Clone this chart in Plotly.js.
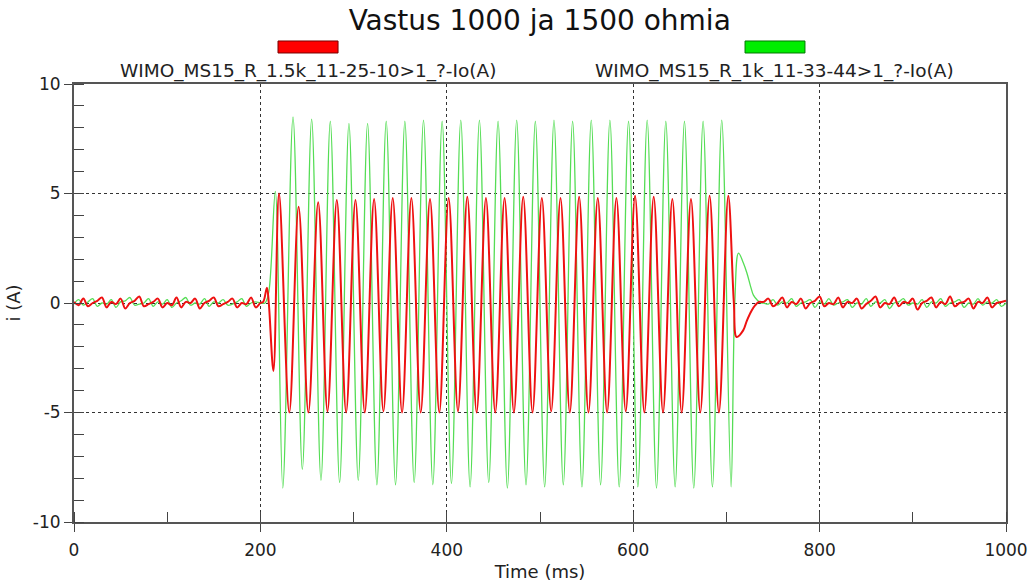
<!DOCTYPE html>
<html>
<head>
<meta charset="utf-8">
<script src="https://cdn.plot.ly/plotly-3.0.1.min.js"></script>
<style>html,body{margin:0;padding:0;background:#fff;}#chart{width:1030px;height:583px;}</style>
</head>
<body>
<div id="chart"></div>
<script>
// ---- Data ----
var chartTitle = "Vastus 1000 ja 1500 ohmia";
var redName = "WIMO_MS15_R_1.5k_11-25-10>1_?-Io(A)";
var greenName = "WIMO_MS15_R_1k_11-33-44>1_?-Io(A)";
var xTickVals = [0, 200, 400, 600, 800, 1000];
var xTickText = ["0", "200", "400", "600", "800", "1000"];
var yTickVals = [-10, -5, 0, 5, 10];
var yTickText = ["-10", "-5", "0", "5", "10"];

// quiet (pre-fault / post-fault) sample times, ms
var quietTimeBefore = [0,5,10,15,20,25,30,35,40,45,50,55,60,65,70,75,80,85,90,95,100,105,110,115,120,125,130,135,140,145,150,155,160,165,170,175,180,185,190,195,200];
var quietTimeAfter = [740,745,750,755,760,765,770,775,780,785,790,795,800,805,810,815,820,825,830,835,840,845,850,855,860,865,870,875,880,885,890,895,900,905,910,915,920,925,930,935,940,945,950,955,960,965,970,975,980,985,990,995,1000];

// red: 1.5 kOhm
var redQuietBefore = [0.05,-0.1,0.2,-0.15, 0.0,0.1,0.25,-0.2, 0.05,-0.05,0.2,-0.25, 0.0,0.1,0.3,-0.15, -0.05,0.05,0.2,-0.2, 0.0,-0.1,0.25,-0.2, 0.05,0.0,0.2,-0.25, 0.0,0.1,0.25,-0.15, -0.05,0.05,0.2,-0.2, 0.0,-0.05,0.25,-0.2, 0.0];
var redActiveTime = [203,207,209,214,220,231,241,251.5,262,
  272,282,292,302,312,322,332,342,352,362,372,382,392,402,412,422,432,442,452,462,472,482,492,502,512,522,532,542,552,562,572,582,592,602,612,622,632,642,652,662,672,682,692,702,
  708,711,718,722,727,731,735];
var redActiveValue = [0.05,0.7,0.0,-3.1,5.0,-5.0,4.4,-5.0,4.6,
  -4.95,4.7,-5.0,4.7,-5.0,4.75,-4.95,4.8,-5.0,4.8,-5.0,4.75,-5.0,4.8,-4.95,4.85,-5.0,4.8,-5.0,4.8,-5.0,4.85,-5.0,4.8,-4.95,4.8,-5.0,4.85,-5.0,4.8,-5.0,4.8,-4.95,4.9,-5.0,4.85,-5.0,4.75,-5.0,4.75,-5.0,4.9,-5.0,4.9,
  0.0,-1.55,-1.25,-0.8,-0.35,-0.1,0.05];
var redQuietAfter = [0.05,0.2,-0.15,0.0, 0.25,-0.2,0.05,-0.05, 0.2,-0.25,0.0,0.1, 0.3,-0.15,0.0,-0.05, 0.25,-0.2,0.05,0.0, 0.2,-0.25,-0.05,0.1, 0.3,-0.2,0.0,-0.05, 0.25,-0.15,0.05,0.0, 0.2,-0.3,0.0,0.1, 0.25,-0.2,0.05,-0.05, 0.3,-0.15,0.0,0.05, 0.2,-0.25,0.05,0.0, 0.25,-0.2,0.0,0.05, 0.1];

// green: 1 kOhm
var greenQuietBefore = [-0.05,0.15,-0.1,0.05, 0.2,-0.15,0.0,-0.05, 0.15,-0.2,0.05,0.1, 0.25,-0.1,-0.05,0.0, 0.2,-0.15,0.05,-0.05, 0.15,-0.2,0.0,0.1, 0.25,-0.1,0.0,-0.05, 0.2,-0.15,0.05,0.0, 0.15,-0.1,-0.05,0.05, 0.2,-0.15,0.0,0.05, 0.0];
var greenActiveTime = [205,209,216,224,
  235,245,255,265,275,285,295,305,315,325,335,345,355,365,375,385,395,405,415,425,435,445,455,465,475,485,495,505,515,525,535,545,555,565,575,585,595,605,615,625,635,645,655,665,675,685,695,705,
  709,713,718,722,726,729,733,737];
var greenActiveValue = [0.0,0.5,5.1,-8.45,
  8.5,-7.6,8.4,-8.1,8.3,-8.2,8.2,-8.1,8.2,-8.3,8.3,-8.3,8.3,-8.2,8.35,-8.3,8.3,-8.25,8.35,-8.4,8.35,-8.2,8.3,-8.45,8.35,-8.3,8.3,-8.4,8.35,-8.3,8.3,-8.4,8.35,-8.3,8.35,-8.4,8.3,-8.4,8.35,-8.45,8.3,-8.4,8.3,-8.45,8.3,-8.4,8.35,-8.4,
  0.0,2.28,1.85,1.37,0.75,0.36,0.14,0.0];
var greenQuietAfter = [0.0,-0.05,0.15,-0.1, 0.05,0.0,0.2,-0.15, 0.0,0.05,0.15,-0.2, 0.05,-0.05,0.2,-0.1, 0.0,0.05,0.15,-0.2, 0.0,-0.05,0.2,-0.15, 0.05,0.0,0.15,-0.25, 0.0,0.05,0.2,-0.1, 0.0,-0.05,0.15,-0.2, 0.05,0.0,0.2,-0.15, 0.0,0.05,0.15,-0.2, 0.0,-0.05,0.2,-0.1, 0.05,0.0,0.15,-0.15, 0.0];

// ---- Build traces ----
var redX = quietTimeBefore.concat(redActiveTime, quietTimeAfter);
var redY = redQuietBefore.concat(redActiveValue, redQuietAfter);
var greenX = quietTimeBefore.concat(greenActiveTime, quietTimeAfter);
var greenY = greenQuietBefore.concat(greenActiveValue, greenQuietAfter);

var redColor = '#ee1111', greenColor = '#55dd55';
var font = 'DejaVu Sans, Verdana, sans-serif';

var traces = [
  {x: greenX, y: greenY, type: 'scatter', mode: 'lines', name: greenName,
   line: {color: greenColor, width: 1.3, shape: 'spline', smoothing: 1}},
  {x: redX, y: redY, type: 'scatter', mode: 'lines', name: redName,
   line: {color: redColor, width: 2, shape: 'spline', smoothing: 1}}
];

var axisCommon = {
  showline: true, linecolor: '#555', linewidth: 2, mirror: true,
  showgrid: true, gridcolor: '#333', griddash: 'dot', gridwidth: 1,
  zeroline: false, ticks: 'outside', ticklen: 8, tickcolor: '#444', tickwidth: 1,
  tickmode: 'array',
  tickfont: {family: font, size: 17, color: '#222'}
};

var layout = {
  width: 1030, height: 583,
  margin: {l: 74, r: 24, t: 84, b: 61},
  paper_bgcolor: '#fff', plot_bgcolor: '#fff',
  showlegend: false,
  font: {family: font, color: '#222'},
  title: {text: chartTitle, x: 0.524, xanchor: 'center', y: 0.966, yanchor: 'middle',
          font: {family: font, size: 28, color: '#111'}},
  xaxis: Object.assign({}, axisCommon, {
    range: [0, 1000], tickvals: xTickVals, ticktext: xTickText,
    ticklabelstandoff: 4,
    minor: {tickmode: 'linear', tick0: 0, dtick: 100, ticks: 'inside', ticklen: 10, tickcolor: '#444', showgrid: false},
    title: {text: 'Time (ms)', standoff: 6, font: {family: font, size: 18, color: '#222'}}
  }),
  yaxis: Object.assign({}, axisCommon, {
    range: [-10, 10], tickvals: yTickVals, ticktext: yTickText,
    minor: {tickmode: 'linear', tick0: 0, dtick: 1, ticks: 'inside', ticklen: 10, tickcolor: '#444', showgrid: false},
    title: {text: 'i (A)', standoff: 8, font: {family: font, size: 18, color: '#222'}}
  }),
  shapes: [
    {type: 'rect', xref: 'paper', yref: 'paper', x0: 0.2189, x1: 0.2833, y0: 1.0708, y1: 1.0982,
     fillcolor: '#ff0000', line: {color: '#700', width: 1}},
    {type: 'rect', xref: 'paper', yref: 'paper', x0: 0.7200, x1: 0.7843, y0: 1.0708, y1: 1.0982,
     fillcolor: '#00ee00', line: {color: '#070', width: 1}}
  ],
  annotations: [
    {xref: 'paper', yref: 'paper', x: 0.2511, y: 1.0297, xanchor: 'center', yanchor: 'middle',
     text: redName.replace('>', '&gt;'), showarrow: false, font: {family: font, size: 18.5, color: '#222'}},
    {xref: 'paper', yref: 'paper', x: 0.7521, y: 1.0297, xanchor: 'center', yanchor: 'middle',
     text: greenName.replace('>', '&gt;'), showarrow: false, font: {family: font, size: 18.5, color: '#222'}}
  ]
};

Plotly.newPlot('chart', traces, layout, {displayModeBar: false, staticPlot: true});
</script>
</body>
</html>
